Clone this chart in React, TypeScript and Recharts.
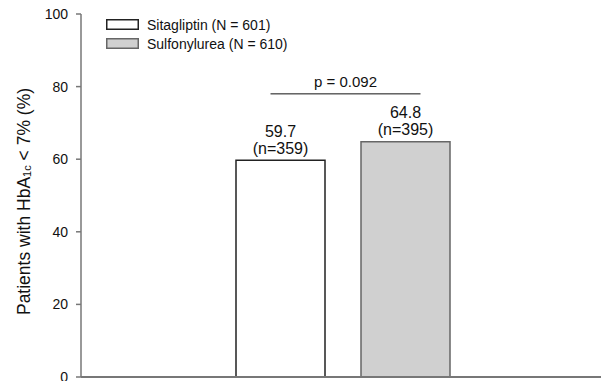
import React from 'react';
import {
  BarChart,
  Bar,
  XAxis,
  YAxis,
  LabelList,
  ReferenceLine,
} from 'recharts';

// chart values
const groups = ['HbA1c < 7%'];
const sitagliptin = [59.7];
const sulfonylurea = [64.8];
const sitagliptinN = [359];
const sulfonylureaN = [395];
const seriesNames = ['Sitagliptin (N = 601)', 'Sulfonylurea (N = 610)'];
const seriesFill = ['#ffffff', '#d0d0d0'];
const seriesStroke = ['#222', '#666'];
const yTicks = [0, 20, 40, 60, 80, 100];
const pValueLabel = 'p = 0.092';
const pLineLevel = 78;

const data = groups.map((g, i) => ({
  group: g,
  sitagliptin: sitagliptin[i],
  sulfonylurea: sulfonylurea[i],
}));

const FONT = '"Liberation Sans", Arial, Helvetica, sans-serif';
const BAR_SIZE = 89;
const BAR_GAP = 36;

const valueLabel = (counts: number[]) => (props: any) => {
  const { x, y, width, value, index } = props;
  const cx = Number(x) + Number(width) / 2;
  const top = Number(y);
  return (
    <g>
      <text x={cx} y={top - 23.5} textAnchor="middle" fontSize={16} fill="#111" fontFamily={FONT}>
        {value}
      </text>
      <text x={cx} y={top - 6.5} textAnchor="middle" fontSize={16} fill="#111" fontFamily={FONT}>
        (n={counts[index]})
      </text>
    </g>
  );
};

// bracket line between the two bars, centred on the category band
const PLine = (props: any) => {
  const { x1, x2, y1 } = props;
  const center = (Number(x1) + Number(x2)) / 2;
  const step = (BAR_SIZE + BAR_GAP) / 2;
  const left = center - step - 8;
  const right = center + step + 17;
  return (
    <g>
      <line x1={left} x2={right} y1={y1} y2={y1} stroke="#111" strokeWidth={1} />
      <text
        x={(left + right) / 2}
        y={Number(y1) - 7}
        textAnchor="middle"
        fontSize={15}
        fill="#111"
        fontFamily={FONT}
      >
        {pValueLabel}
      </text>
    </g>
  );
};

const YTitle = (props: any) => {
  const vb = props.viewBox || {};
  const cx = 24;
  const cy = Number(vb.y) + Number(vb.height) / 2 + 6;
  return (
    <text
      x={cx}
      y={cy}
      transform={`rotate(-90 ${cx} ${cy})`}
      textAnchor="middle"
      dominantBaseline="central"
      fontSize={17.5}
      fill="#111"
      fontFamily={FONT}
    >
      Patients with HbA
      <tspan fontSize={11} dy={3}>1c</tspan>
      <tspan dy={-3}> &lt; 7% (%)</tspan>
    </text>
  );
};

const LegendBox = () => (
  <div
    style={{
      position: 'absolute',
      left: 106,
      top: 15,
      fontFamily: FONT,
      fontSize: 14,
      color: '#111',
    }}
  >
    {seriesNames.map((name, i) => (
      <div key={name} style={{ display: 'flex', alignItems: 'center', height: 19 }}>
        <svg width={33} height={11} style={{ display: 'block' }}>
          <rect
            x={0.75}
            y={0.75}
            width={31.5}
            height={9.5}
            fill={seriesFill[i]}
            stroke={seriesStroke[i]}
            strokeWidth={1.5}
          />
        </svg>
        <span style={{ marginLeft: 8, whiteSpace: 'nowrap' }}>{name}</span>
      </div>
    ))}
  </div>
);

export default function App() {
  return (
    <div style={{ position: 'absolute', left: 0, top: 0, width: 601, height: 381, background: '#fff' }}>
      <BarChart
        width={601}
        height={381}
        data={data}
        margin={{ top: 14, right: 0, bottom: 3, left: 0 }}
        barSize={BAR_SIZE}
        barGap={BAR_GAP}
      >
        <XAxis
          dataKey="group"
          tick={false}
          tickLine={false}
          height={1}
          padding={{ left: 3, right: 0 }}
          axisLine={{ stroke: '#777', strokeWidth: 2 }}
        />
        <YAxis
          domain={[0, 100]}
          ticks={yTicks}
          width={81}
          tickSize={5}
          tickMargin={8}
          interval={0}
          axisLine={{ stroke: '#777', strokeWidth: 1.5 }}
          tickLine={{ stroke: '#777', strokeWidth: 1.5 }}
          tick={{ fill: '#111', fontSize: 14, fontFamily: FONT }}
          label={{ content: YTitle }}
        />
        <ReferenceLine y={pLineLevel} shape={PLine} />
        <Bar
          dataKey="sitagliptin"
          name={seriesNames[0]}
          fill={seriesFill[0]}
          stroke={seriesStroke[0]}
          strokeWidth={1.5}
          isAnimationActive={false}
        >
          <LabelList dataKey="sitagliptin" content={valueLabel(sitagliptinN)} />
        </Bar>
        <Bar
          dataKey="sulfonylurea"
          name={seriesNames[1]}
          fill={seriesFill[1]}
          stroke={seriesStroke[1]}
          strokeWidth={1.5}
          isAnimationActive={false}
        >
          <LabelList dataKey="sulfonylurea" content={valueLabel(sulfonylureaN)} />
        </Bar>
      </BarChart>
      <LegendBox />
    </div>
  );
}
